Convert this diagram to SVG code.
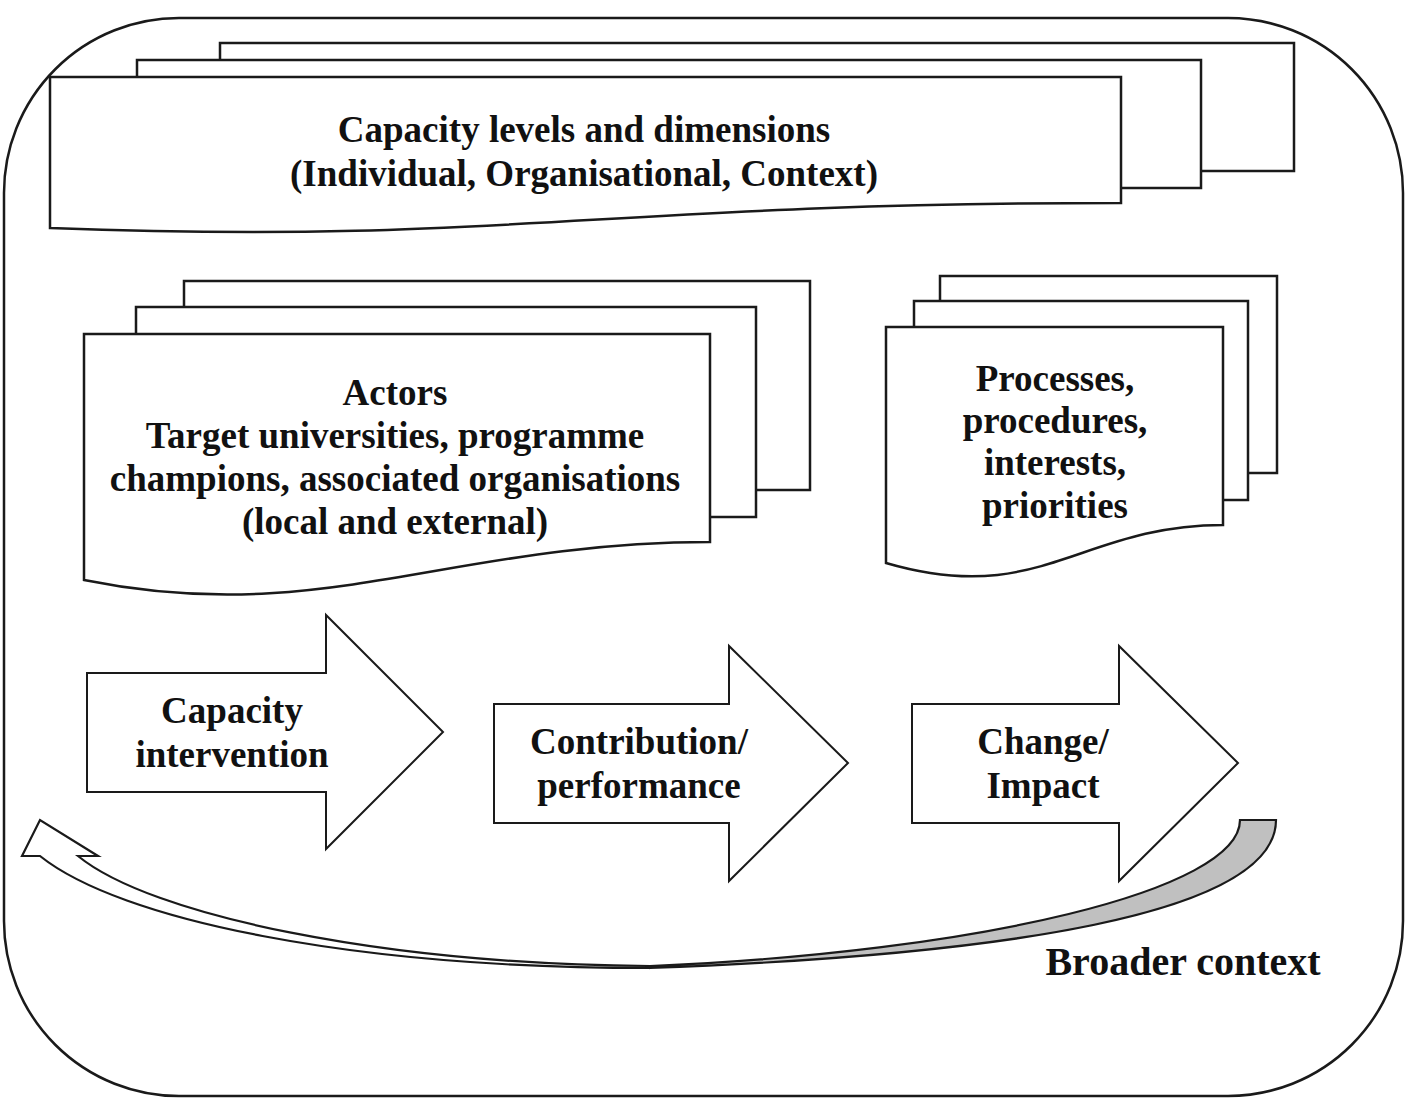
<svg xmlns="http://www.w3.org/2000/svg" width="1418" height="1118" viewBox="0 0 1418 1118">
<style>
.shape{fill:#fff;stroke:#1a1a1a;stroke-width:2.5;stroke-linejoin:miter}
.thin{fill:#fff;stroke:#1a1a1a;stroke-width:2}
.t{font-family:"Liberation Serif","Times New Roman",serif;font-weight:bold;font-size:37px;fill:#111;text-anchor:middle}
</style>
<rect width="1418" height="1118" fill="#fff"/>
<g id="broader-context">
<rect x="4" y="18" width="1399" height="1078" rx="175" ry="175" fill="#fff" stroke="#1a1a1a" stroke-width="2.5"/>
<text class="t" x="1183" y="975" style="font-size:40px">Broader context</text>
</g>
<g id="capacity-levels">
<rect class="shape" x="220" y="43" width="1074" height="128"/>
<rect class="shape" x="137" y="60" width="1064" height="128"/>
<path class="shape" d="M50,77 H1121 V203 C600,203 500,245 50,228 Z"/>
<text class="t" x="584" y="142">Capacity levels and dimensions</text>
<text class="t" x="584" y="186">(Individual, Organisational, Context)</text>
</g>
<g id="actors">
<rect class="shape" x="184" y="281" width="626" height="209"/>
<rect class="shape" x="136" y="307" width="620" height="210"/>
<path class="shape" d="M84,334 H710 V542 C450,542 320,628 84,580 Z"/>
<text class="t" x="395" y="405">Actors</text>
<text class="t" x="395" y="448">Target universities, programme</text>
<text class="t" x="395" y="491">champions, associated organisations</text>
<text class="t" x="395" y="534">(local and external)</text>
</g>
<g id="processes">
<rect class="shape" x="940" y="276" width="337" height="197"/>
<rect class="shape" x="914" y="301" width="334" height="199"/>
<path class="shape" d="M886,327 H1223 V525 C1080,525 1040,608 886,563 Z"/>
<text class="t" x="1055" y="391">Processes,</text>
<text class="t" x="1055" y="433">procedures,</text>
<text class="t" x="1055" y="475">interests,</text>
<text class="t" x="1055" y="518">priorities</text>
</g>
<g id="capacity-intervention">
<path class="thin" d="M87,673 H326 V615 L443,732 L326,849 V792 H87 Z"/>
<text class="t" x="232" y="723">Capacity</text>
<text class="t" x="232" y="767">intervention</text>
</g>
<g id="contribution-performance">
<path class="thin" d="M494,704 H729 V646 L848,763 L729,881 V823 H494 Z"/>
<text class="t" x="639" y="754">Contribution/</text>
<text class="t" x="639" y="798">performance</text>
</g>
<g id="change-impact">
<path class="thin" d="M912,704 H1119 V646 L1238,763 L1119,881 V823 H912 Z"/>
<text class="t" x="1043" y="754">Change/</text>
<text class="t" x="1043" y="798">Impact</text>
</g>
<g id="connectors">
<path d="M650,968 C1000,955 1276,915 1276,820 L1240,820 C1240,890 980,952 650,966 Z" fill="#c0c0c0" stroke="#1a1a1a" stroke-width="2.2"/>
<path d="M22,856 L40,820 L98,856 L78,856 C150,915 380,964 650,966 L650,968 C350,968 120,920 40,856 Z" fill="#fff" stroke="#1a1a1a" stroke-width="2.2" stroke-linejoin="miter"/>
</g>
</svg>
